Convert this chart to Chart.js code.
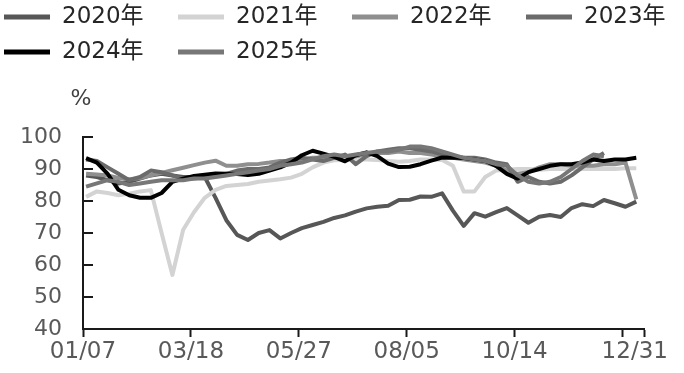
<!DOCTYPE html>
<html><head><meta charset="utf-8">
<script src="https://cdn.jsdelivr.net/npm/chart.js@4.4.1/dist/chart.umd.min.js"></script>
<style>html,body{margin:0;padding:0;background:#fff}#wrap{width:684px;height:373px;position:relative}</style>
</head><body><div id="wrap"><canvas id="c" width="684" height="373"></canvas></div>
<script>
// ---- data ----
const seriesNames = ['2020年','2021年','2022年','2023年','2024年','2025年'];
const weekDates = ['2025-01-09','2025-01-16','2025-01-23','2025-01-30','2025-02-06','2025-02-13','2025-02-20','2025-02-27',
  '2025-03-06','2025-03-13','2025-03-20','2025-03-27','2025-04-03','2025-04-10','2025-04-17','2025-04-24','2025-05-01',
  '2025-05-08','2025-05-15','2025-05-22','2025-05-29','2025-06-05','2025-06-12','2025-06-19','2025-06-26',
  '2025-07-03','2025-07-10','2025-07-17','2025-07-24','2025-07-31','2025-08-07','2025-08-14','2025-08-21','2025-08-28',
  '2025-09-04','2025-09-11','2025-09-18','2025-09-25','2025-10-02','2025-10-09','2025-10-16','2025-10-23','2025-10-30',
  '2025-11-06','2025-11-13','2025-11-20','2025-11-27','2025-12-04','2025-12-11','2025-12-18','2025-12-25','2026-01-01'];
const v2020 = [88,87.5,86.5,85.5,86,87,88,88.5,88,87.5,87.5,87.5,81,74,69.4,67.8,70,70.9,68.3,70,71.5,72.5,73.5,74.7,75.5,76.7,77.7,78.2,78.5,80.3,80.4,81.4,81.3,82.4,77,72.2,76.2,75.1,76.5,77.8,75.5,73.2,75.1,75.6,75,77.8,79,78.4,80.3,79.3,78.2,79.8];
const v2021 = [81.3,83,82.5,81.8,82.3,83,83.4,70,56.9,71,76.5,81,83.5,84.7,85,85.3,86,86.4,86.8,87.3,88.5,90.5,92,92.7,92.8,93,93,92.8,92.5,92.3,92.5,93,93,92.8,91,83,83,87.5,89.5,89.8,90,90,89.8,90,90,90,90,90,90.1,90,90.2,90.2];
const v2022 = [88.5,88.3,88,87.2,86.8,87.2,88,88.8,89.6,90.4,91.2,92,92.6,91,91,91.5,91.6,92,92.5,92.5,93,93.5,93.5,94,94,94,94.5,95,95,95.5,95,95,94.5,94,93.5,93,92.5,92,91,89.5,88.5,89,90.5,91.5,91.5,91,91,91,91.5,91.5,92,80.5];
const v2023 = [93,92.5,90.5,88.5,86.5,87.5,89.5,89,88,87,87,87.5,88,88.5,89.5,90,90,90.5,92,93,93.5,93,92.5,93.5,94.5,91.5,94,95.5,96,96.5,96.5,96,95.5,94.5,94,93.5,93.5,93,92,91.5,86,87.5,86,85.5,86,88,90.5,93,95];
const v2024 = [93.4,92,88.5,83.5,81.8,81,81,82.5,86,87,87.8,88.2,88.6,88.5,88.4,88.1,88.5,89.5,90.5,92,94.3,95.7,94.8,93.8,92.4,94.3,95.2,94,91.7,90.6,90.7,91.5,92.6,93.6,93.5,93.4,93,92.5,91,88.5,87,89,90,91,91.5,91.5,92,93,92.5,93,93,93.5];
const v2025 = [84.5,85.5,86.5,86,85,85.5,86,86.5,86.5,86.5,87,87,87.5,88,88.5,89,89.5,90,91,91.5,92,93,94,94.5,94,94.5,95,95.5,95.5,96,97,97,96.5,95.5,94.5,93.5,93,92.5,91.5,91,88,86,85.5,86,87.5,90,92.5,94.5,94];
const yTicks = [40,50,60,70,80,90,100];
const xAxisStart = '2025-01-07';
const xAxisEnd = '2026-01-06';
const xTickDates = ['2025-01-07','2025-03-18','2025-05-27','2025-08-05','2025-10-14','2025-12-23','2025-12-31','2026-01-06'];
const xTickLabels = ['01/07','03/18','05/27','08/05','10/14','','12/31',''];
const yUnit = '%';

// ---- helpers ----
const dayOf = s => (Date.parse(s) - Date.parse(xAxisStart)) / 86400000;
const FONT = '"DejaVu Sans", "Noto Sans CJK SC", sans-serif';
const AXIS = '#1a1a1a';
const colors = ['#575757','#d3d3d3','#8f8f8f','#6b6b6b','#000000','#777777'];
const seriesValues = [v2020, v2021, v2022, v2023, v2024, v2025];

const datasets = seriesNames.map((name, i) => ({
  label: name,
  data: seriesValues[i].map((v, k) => ({x: dayOf(weekDates[k]), y: v})),
  borderColor: colors[i],
  backgroundColor: colors[i],
  borderWidth: 4,
  borderJoinStyle: 'round',
  pointRadius: 0,
  tension: 0,
  fill: false,
  order: seriesNames.length - i
}));

const decorPlugin = {
  id: 'decor',
  afterDraw(chart) {
    const ctx = chart.ctx;
    const ys = chart.scales.y;
    ctx.save();
    // inward y tick marks
    ctx.strokeStyle = AXIS;
    ctx.lineWidth = 2;
    yTicks.forEach(v => {
      const py = Math.round(ys.getPixelForValue(v));
      ctx.beginPath();
      ctx.moveTo(ys.right, py);
      ctx.lineTo(ys.right + 10, py);
      ctx.stroke();
    });
    // legend
    chart.data.datasets.forEach((ds, i) => {
      const col = i % 4, row = Math.floor(i / 4);
      const x = 4 + col * 174, y = 17 + row * 35;
      ctx.fillStyle = ds.borderColor;
      ctx.fillRect(x, y - 2.5, 46, 5);
      ctx.fillStyle = '#262626';
      ctx.font = '23px ' + FONT;
      ctx.textBaseline = 'middle';
      ctx.textAlign = 'left';
      ctx.fillText(ds.label, x + 58, y);
    });
    // unit
    ctx.fillStyle = '#404040';
    ctx.font = '22px ' + FONT;
    ctx.textAlign = 'center';
    ctx.textBaseline = 'middle';
    ctx.fillText(yUnit, 81, 99);
    ctx.restore();
  }
};

new Chart(document.getElementById('c'), {
  type: 'line',
  data: { datasets },
  plugins: [decorPlugin],
  options: {
    responsive: false,
    animation: false,
    devicePixelRatio: 1,
    layout: { padding: { top: 137, right: 40, left: 0, bottom: 0 } },
    plugins: { legend: { display: false }, tooltip: { enabled: false } },
    scales: {
      x: {
        type: 'linear',
        min: dayOf(xAxisStart),
        max: dayOf(xAxisEnd),
        afterBuildTicks: s => { s.ticks = xTickDates.map(d => ({ value: dayOf(d) })); },
        afterFit: s => { s.height = 44; },
        ticks: {
          autoSkip: false, maxRotation: 0, padding: 1, color: '#595959',
          font: { family: FONT, size: 23 },
          callback: (v, i) => xTickLabels[i]
        },
        grid: {
          drawOnChartArea: false, drawTicks: true, tickLength: 8, tickWidth: 2,
          tickColor: c => (c.tick && c.tick.value === dayOf('2025-12-31')) ? 'rgba(0,0,0,0)' : AXIS
        },
        border: { display: true, color: AXIS, width: 2 }
      },
      y: {
        min: 40, max: 100,
        afterBuildTicks: s => { s.ticks = yTicks.map(v => ({ value: v })); },
        afterFit: s => { s.width = 83; },
        ticks: { padding: 21, color: '#595959', font: { family: FONT, size: 22 } },
        grid: { drawOnChartArea: false, drawTicks: false },
        border: { display: true, color: AXIS, width: 2 }
      }
    }
  }
});
</script></body></html>
